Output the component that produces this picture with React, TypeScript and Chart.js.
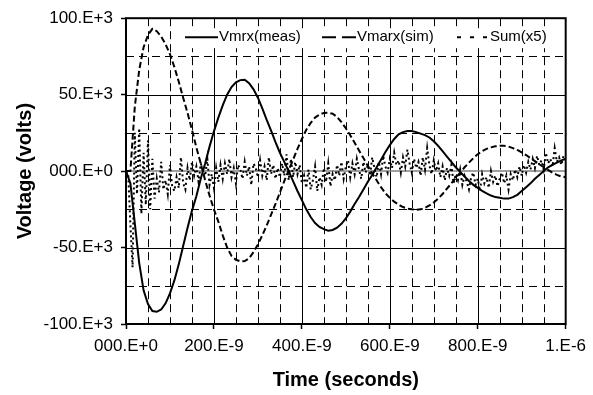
import React, { useEffect, useRef } from "react";
import { Chart, registerables } from "chart.js";

Chart.register(...registerables);

// ---- axis text ----
const X_TICK_LABELS = ["000.E+0", "200.E-9", "400.E-9", "600.E-9", "800.E-9", "1.E-6"];
const Y_TICK_LABELS = ["-100.E+3", "-50.E+3", "000.E+0", "50.E+3", "100.E+3"];
const X_TITLE = "Time (seconds)";
const Y_TITLE = "Voltage (volts)";

// x in nanoseconds, y in kilovolts
const X_MIN = 0;
const X_MAX = 1000;
const X_MAJOR = 200;
const X_MINOR = 50;
const Y_MIN = -100;
const Y_MAX = 100;
const Y_MAJOR = 50;
const Y_MINOR = 25;

// ---- series ----
const LABEL_MEAS = "Vmrx(meas)";
const LABEL_SIM = "Vmarx(sim)";
const LABEL_SUM = "Sum(x5)";

const MEAS_STEP_NS = 10;
const MEAS_KV = [
  0, -8, -34, -60, -78, -87, -91.5, -92, -90.5, -86.5,
  -80, -71.5, -61, -49, -37, -26, -16.5, -5, 5, 16,
  26, 35, 43, 50, 55, 58, 59.5, 59.8, 57.5, 53.5,
  48, 41, 33.5, 26.5, 19, 12, 6, 0, -6.5, -13,
  -19, -25, -30, -34, -36.5, -38, -39, -38.5, -37, -34.5,
  -31, -26.5, -21.5, -17, -12, -7, -2.5, 2.5, 7.5, 12.5,
  17, 21, 24, 25.5, 26.2, 26.2, 25.5, 24.5, 23.5, 22,
  19.5, 16.5, 13, 9.5, 6, 2.5, -0.5, -3.5, -6.5, -9,
  -11, -13, -14.5, -16, -17, -17.5, -18, -18, -17, -15.5,
  -13, -10.5, -8, -5, -2.5, 0, 2.5, 4, 5.5, 7,
  8,
];

const SIM_STEP_NS = 10;
const SIM_KV = [
  0, 0, 42, 66, 81, 89, 93, 91.5, 88, 83,
  76.5, 68, 58.5, 48, 38, 27, 15.5, 5, -6, -16,
  -25, -33, -42, -50, -55.5, -58, -59, -58.8, -57, -53,
  -48, -42, -35.5, -28.5, -21.5, -14, -6.5, 0.5, 7.5, 14.5,
  21, 27, 31.5, 35, 37, 38, 38.2, 37.5, 35.5, 32,
  28, 23.5, 18.5, 13.5, 8.5, 3.5, -1.5, -6, -10.5, -14.5,
  -17.5, -20, -22, -23.5, -24.5, -25, -25.3, -25, -24, -22.5,
  -20.5, -18, -15, -11.5, -8, -4.5, -1, 2.5, 5.5, 8.5,
  11, 13, 14.5, 15.5, 16.2, 16.5, 16.5, 16, 15, 13.8,
  12.2, 10.5, 8.5, 6.5, 4.5, 2.5, 0.8, -1, -2.5, -3.5,
  -4,
];

const SUM_STEP_NS = 5;
const SUM_KV = [
  0, -2, -35, -63, 25, -15, 28, -28, 12, -22,
  20, -25, 8, -18, -5, -14, 6, -12, -6, -15,
  4, -10, -13, -4, -11, 9, -8, -12, 2, -6,
  6, -3, 3, -7, 5, 1, -3, 8, -9, -2,
  -11, 2, -7, 4, -5, 5, -2, 8, -4, 2,
  -8, 4, 1, -5, 6, -3, 3, -9, 5, 2,
  -4, 7, -3, 3, -6, 9, -2, 4, -5, 2,
  -4, 5, -3, 11, -6, 8, -4, 6, -2, 4,
  -8, -3, -11, 1, -12, -6, 3, -13, -4, -9,
  2, -7, 5, -10, -2, -6, 4, -3, 6, -5,
  3, 7, -4, 5, -2, 8, 1, -5, 6, -1,
  4, -3, 9, 2, -4, 6, -2, 10, 3, -1,
  8, 2, 12, 4, 7, -1, 9, 3, 14, 5,
  -1, 8, 2, 6, -3, 9, 1, 15, 4, -2,
  7, 0, 5, -4, 3, -6, 2, -3, 4, -8,
  -2, -6, 1, -9, -3, -7, -12, -4, -1, -9,
  -5, -13, -2, -8, -4, -11, 0, -7, -3, -10,
  -5, -1, -8, -3, -12, -2, -6, 1, -4, 3,
  -3, 4, -1, 6, 1, 8, 2, 10, 4, 7,
  1, 12, 5, 8, 3, 15, 6, 9, 4, 10,
  7,
];

const FONT = "'Liberation Sans', Arial, Helvetica, sans-serif";

const toPoints = (vals: number[], step: number) =>
  vals.map((v, i) => ({ x: i * step, y: v }));

const gridPlugin = {
  id: "excelGrid",
  beforeDatasetsDraw(chart: any) {
    const { ctx, chartArea: a, scales } = chart;
    const xs = scales.x;
    const ys = scales.y;
    ctx.save();
    ctx.beginPath();
    ctx.rect(a.left, a.top, a.right - a.left, a.bottom - a.top);
    ctx.clip();
    const vline = (v: number) => {
      const px = Math.round(xs.getPixelForValue(v)) + 0.5;
      ctx.beginPath();
      ctx.moveTo(px, a.top);
      ctx.lineTo(px, a.bottom);
      ctx.stroke();
    };
    const hline = (v: number) => {
      const py = Math.round(ys.getPixelForValue(v)) + 0.5;
      ctx.beginPath();
      ctx.moveTo(a.left, py);
      ctx.lineTo(a.right, py);
      ctx.stroke();
    };
    ctx.strokeStyle = "#000";
    ctx.lineWidth = 1;
    // minor dashed
    ctx.setLineDash([8, 5]);
    for (let v = X_MIN + X_MINOR; v < X_MAX; v += X_MINOR) if (v % X_MAJOR !== 0) vline(v);
    for (let v = Y_MIN + Y_MINOR; v < Y_MAX; v += Y_MINOR) if (v % Y_MAJOR !== 0) hline(v);
    // major solid
    ctx.setLineDash([]);
    for (let v = X_MIN + X_MAJOR; v < X_MAX; v += X_MAJOR) vline(v);
    for (let v = Y_MIN + Y_MAJOR; v < Y_MAX; v += Y_MAJOR) if (v !== 0) hline(v);
    // zero line (grey)
    ctx.strokeStyle = "#808080";
    ctx.lineWidth = 1.5;
    const pz = ys.getPixelForValue(0);
    ctx.beginPath();
    ctx.moveTo(a.left, pz);
    ctx.lineTo(a.right, pz);
    ctx.stroke();
    ctx.restore();
  },
  afterDatasetsDraw(chart: any) {
    const { ctx, chartArea: a } = chart;
    ctx.save();
    // legend box (no border)
    const ly = a.top + 19;
    ctx.fillStyle = "#fff";
    ctx.fillRect(a.left + 53, a.top + 10, a.right - a.left - 54, 20);
    ctx.strokeStyle = "#000";
    ctx.lineWidth = 2;
    const sample = (x0: number, x1: number, dash: number[]) => {
      ctx.setLineDash(dash);
      ctx.beginPath();
      ctx.moveTo(x0, ly);
      ctx.lineTo(x1, ly);
      ctx.stroke();
    };
    sample(a.left + 59, a.left + 92, []);
    sample(a.left + 196, a.left + 231, [14, 6]);
    sample(a.left + 331, a.left + 362, [4, 9]);
    ctx.setLineDash([]);
    ctx.fillStyle = "#000";
    ctx.font = `15px ${FONT}`;
    ctx.textBaseline = "middle";
    ctx.textAlign = "left";
    ctx.fillText(LABEL_MEAS, a.left + 93, ly);
    ctx.fillText(LABEL_SIM, a.left + 231, ly);
    ctx.fillText(LABEL_SUM, a.left + 364, ly);
    // plot frame
    ctx.lineWidth = 2;
    ctx.strokeRect(a.left, a.top, a.right - a.left, a.bottom - a.top);
    ctx.restore();
  },
};

export default function App() {
  const ref = useRef<HTMLCanvasElement>(null);
  useEffect(() => {
    if (!ref.current) return;
    const chart = new Chart(ref.current, {
      type: "line",
      data: {
        datasets: [
          {
            label: LABEL_MEAS,
            data: toPoints(MEAS_KV, MEAS_STEP_NS),
            borderColor: "#000",
            borderWidth: 2,
            pointRadius: 0,
            fill: false,
          },
          {
            label: LABEL_SIM,
            data: toPoints(SIM_KV, SIM_STEP_NS),
            borderColor: "#000",
            borderWidth: 2,
            borderDash: [6, 3],
            pointRadius: 0,
            fill: false,
          },
          {
            label: LABEL_SUM,
            data: toPoints(SUM_KV, SUM_STEP_NS),
            borderColor: "#000",
            borderWidth: 2,
            borderDash: [2, 3],
            pointRadius: 0,
            fill: false,
          },
        ],
      },
      options: {
        responsive: false,
        devicePixelRatio: 1,
        animation: false,
        events: [],
        layout: { padding: { top: 14, right: 26, left: 0, bottom: 0 } },
        plugins: { legend: { display: false }, tooltip: { enabled: false } },
        scales: {
          x: {
            type: "linear",
            min: X_MIN,
            max: X_MAX,
            afterFit: (s: any) => {
              s.height = 71;
            },
            ticks: {
              stepSize: X_MAJOR,
              autoSkip: false,
              maxRotation: 0,
              padding: 7,
              color: "#000",
              font: { family: FONT, size: 17 },
              callback: (_v: any, i: number) => X_TICK_LABELS[i],
            },
            grid: {
              drawOnChartArea: false,
              drawTicks: true,
              tickLength: 5,
              tickColor: "#000",
              tickWidth: 1.5,
              color: "#000",
            },
            border: { display: false },
            title: {
              display: true,
              text: X_TITLE,
              color: "#000",
              font: { family: FONT, size: 20, weight: "bold" },
              padding: { top: 0, bottom: 3 },
            },
          },
          y: {
            type: "linear",
            min: Y_MIN,
            max: Y_MAX,
            afterFit: (s: any) => {
              s.width = 126;
            },
            ticks: {
              stepSize: Y_MAJOR,
              autoSkip: false,
              padding: 8,
              color: "#000",
              font: { family: FONT, size: 17 },
              callback: (_v: any, i: number) => Y_TICK_LABELS[i],
            },
            grid: {
              drawOnChartArea: false,
              drawTicks: true,
              tickLength: 5,
              tickColor: "#000",
              tickWidth: 1.5,
              color: "#000",
            },
            border: { display: false },
            title: {
              display: true,
              text: Y_TITLE,
              color: "#000",
              font: { family: FONT, size: 20, weight: "bold" },
              padding: { top: 13, bottom: 0 },
            },
          },
        },
      },
      plugins: [gridPlugin],
    } as any);
    return () => chart.destroy();
  }, []);
  return (
    <div style={{ position: "absolute", left: 0, top: 0, width: 593, height: 395, background: "#fff" }}>
      <canvas ref={ref} width={593} height={395} style={{ display: "block", width: 593, height: 395 }} />
    </div>
  );
}
